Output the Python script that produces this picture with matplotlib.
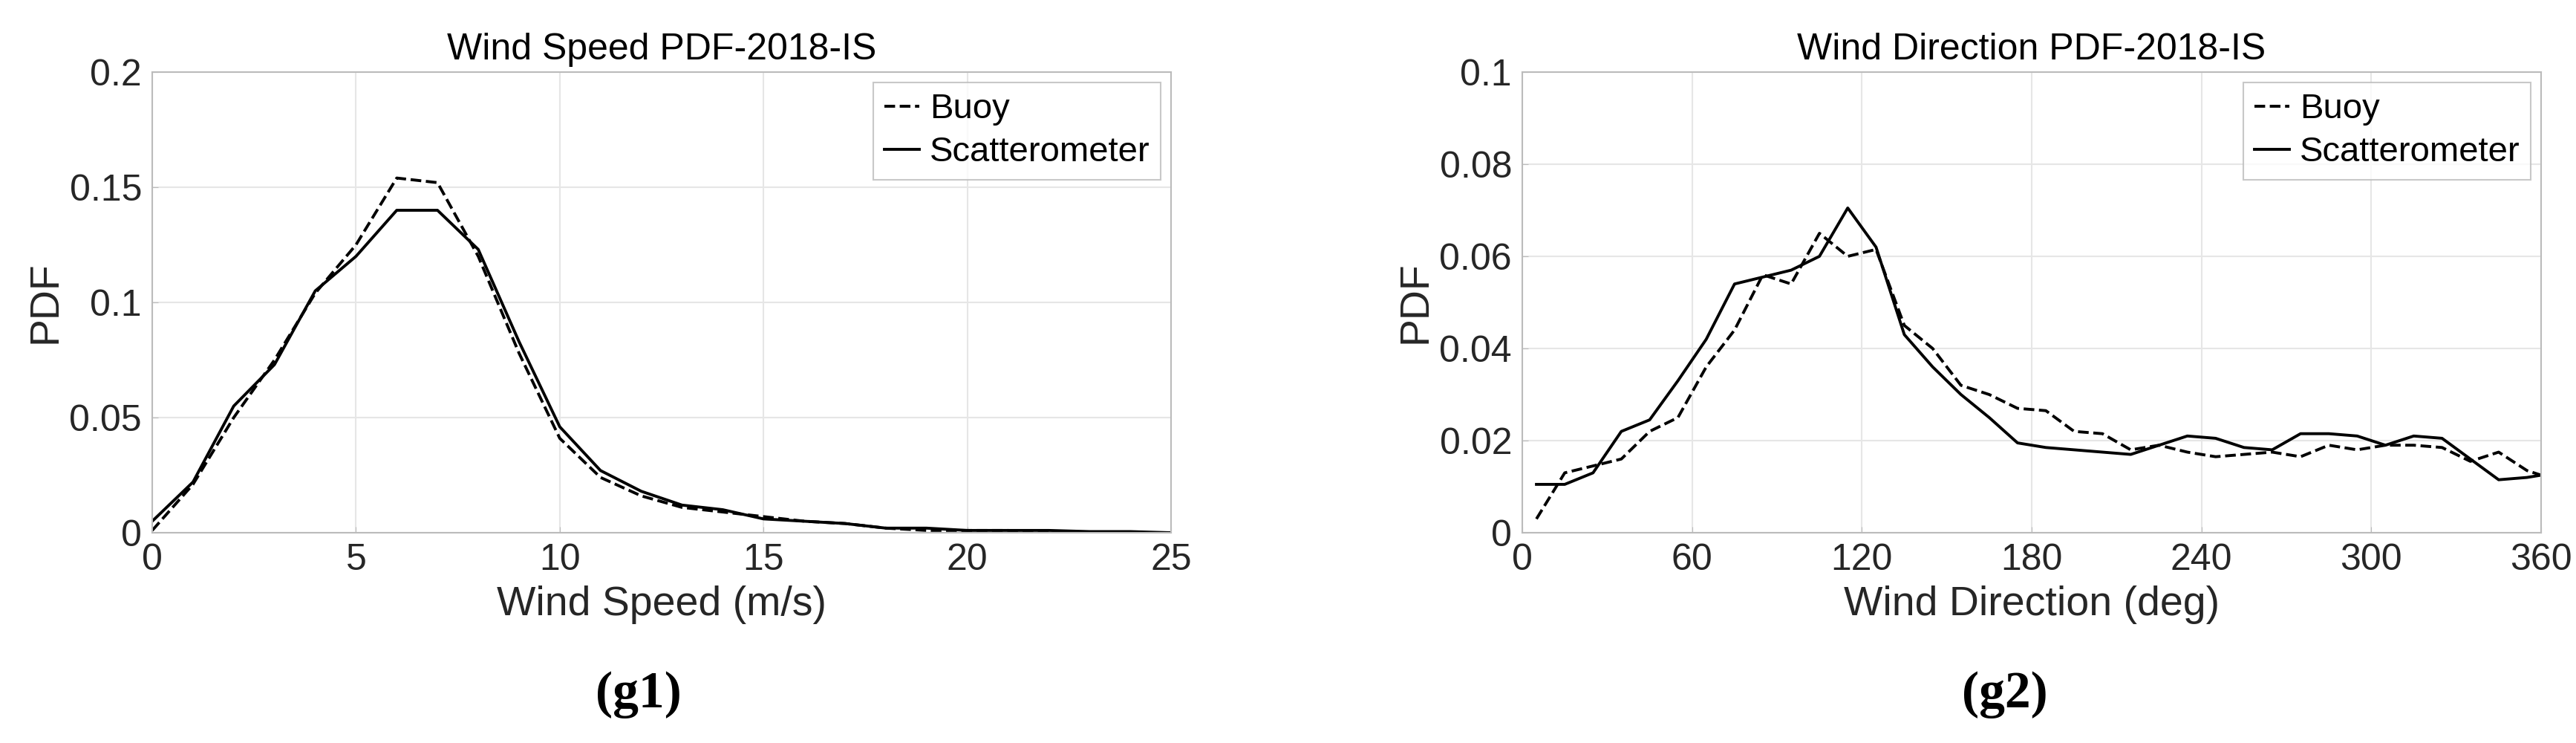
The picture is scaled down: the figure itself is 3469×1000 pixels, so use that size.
import matplotlib
matplotlib.use("Agg")
import matplotlib.pyplot as plt

plt.rcParams['font.family'] = ['Liberation Sans Narrow', 'Liberation Sans', 'DejaVu Sans']

speed = list(range(26))
speed_scat = [0.005,0.022,0.055,0.073,0.105,0.12,0.14,0.14,0.123,0.083,0.046,0.027,0.018,0.012,0.010,0.006,0.005,0.004,0.002,0.002,0.001,0.001,0.001,0.0005,0.0005,0.0]
speed_buoy = [0.001,0.021,0.05,0.075,0.104,0.125,0.154,0.152,0.12,0.078,0.041,0.024,0.016,0.011,0.009,0.007,0.005,0.004,0.002,0.001,0.001,0.001,0.0005,0.0,0.0,0.0]

direc = list(range(5, 360, 10)) + [360]
dir_scat = [0.0105,0.0105,0.013,0.022,0.0245,0.033,0.042,0.054,0.0555,0.057,0.060,0.0705,0.062,0.043,0.036,0.030,0.025,0.0195,0.0185,0.018,0.0175,0.017,0.019,0.021,0.0205,0.0185,0.018,0.0215,0.0215,0.021,0.019,0.021,0.0205,0.016,0.0115,0.012,0.0125]
dir_buoy = [0.003,0.013,0.0145,0.016,0.022,0.025,0.036,0.044,0.056,0.054,0.065,0.060,0.0615,0.045,0.040,0.032,0.030,0.027,0.0265,0.022,0.0215,0.018,0.019,0.0175,0.0165,0.017,0.0175,0.0165,0.019,0.018,0.019,0.019,0.0185,0.0155,0.0175,0.0135,0.0125]

fig = plt.figure(figsize=(34.69, 10), dpi=100)
ax1 = fig.add_axes([205/3469, 1-717/1000, (1577-205)/3469, (717-97)/1000])
ax2 = fig.add_axes([2050/3469, 1-717/1000, (3422-2050)/3469, (717-97)/1000])

def style(ax, title, xlabel, xlim, ylim, xticks, yticks, yticklabels):
    ax.set_xlim(*xlim); ax.set_ylim(*ylim)
    ax.set_xticks(xticks); ax.set_yticks(yticks)
    ax.set_yticklabels(yticklabels)
    ax.grid(True, color='#e6e6e6', linewidth=1.5)
    ax.set_axisbelow(True)
    for s in ax.spines.values():
        s.set_color('#bbbbbb'); s.set_linewidth(1.5)
    ax.tick_params(labelsize=36, colors='#262626', length=6, color='#bbbbbb', direction='in', pad=10)
    ax.set_title(title, fontsize=36, pad=12)
    ax.set_xlabel(xlabel, fontsize=40, color='#262626', labelpad=8)
    ax.set_ylabel('PDF', fontsize=40, color='#262626', labelpad=4)
    leg = ax.legend(loc='upper right', fontsize=34, frameon=True, fancybox=False,
                    edgecolor='#bbbbbb', handlelength=1.0, handletextpad=0.3,
                    borderaxespad=0.3, labelspacing=0.3, borderpad=0.3)
    leg.get_frame().set_linewidth(1.5)

ax1.plot(speed, speed_buoy, 'k--', lw=2.8, label='Buoy')
ax1.plot(speed, speed_scat, 'k-', lw=2.8, label='Scatterometer')
style(ax1, 'Wind Speed PDF-2018-IS', 'Wind Speed (m/s)', (0, 25), (0, 0.2),
      [0, 5, 10, 15, 20, 25], [0, 0.05, 0.1, 0.15, 0.2], ['0', '0.05', '0.1', '0.15', '0.2'])

ax2.plot(direc, dir_buoy, 'k--', lw=2.8, label='Buoy')
ax2.plot(direc, dir_scat, 'k-', lw=2.8, label='Scatterometer')
style(ax2, 'Wind Direction PDF-2018-IS', 'Wind Direction (deg)', (0, 360), (0, 0.1),
      [0, 60, 120, 180, 240, 300, 360], [0, 0.02, 0.04, 0.06, 0.08, 0.1],
      ['0', '0.02', '0.04', '0.06', '0.08', '0.1'])

fig.text(860/3469, 1-935/1000, '(g1)', fontsize=50, fontweight='bold', family='Liberation Serif', ha='center', va='center')
fig.text(2700/3469, 1-935/1000, '(g2)', fontsize=50, fontweight='bold', family='Liberation Serif', ha='center', va='center')

fig.savefig('out.png', dpi=100, facecolor='white')
